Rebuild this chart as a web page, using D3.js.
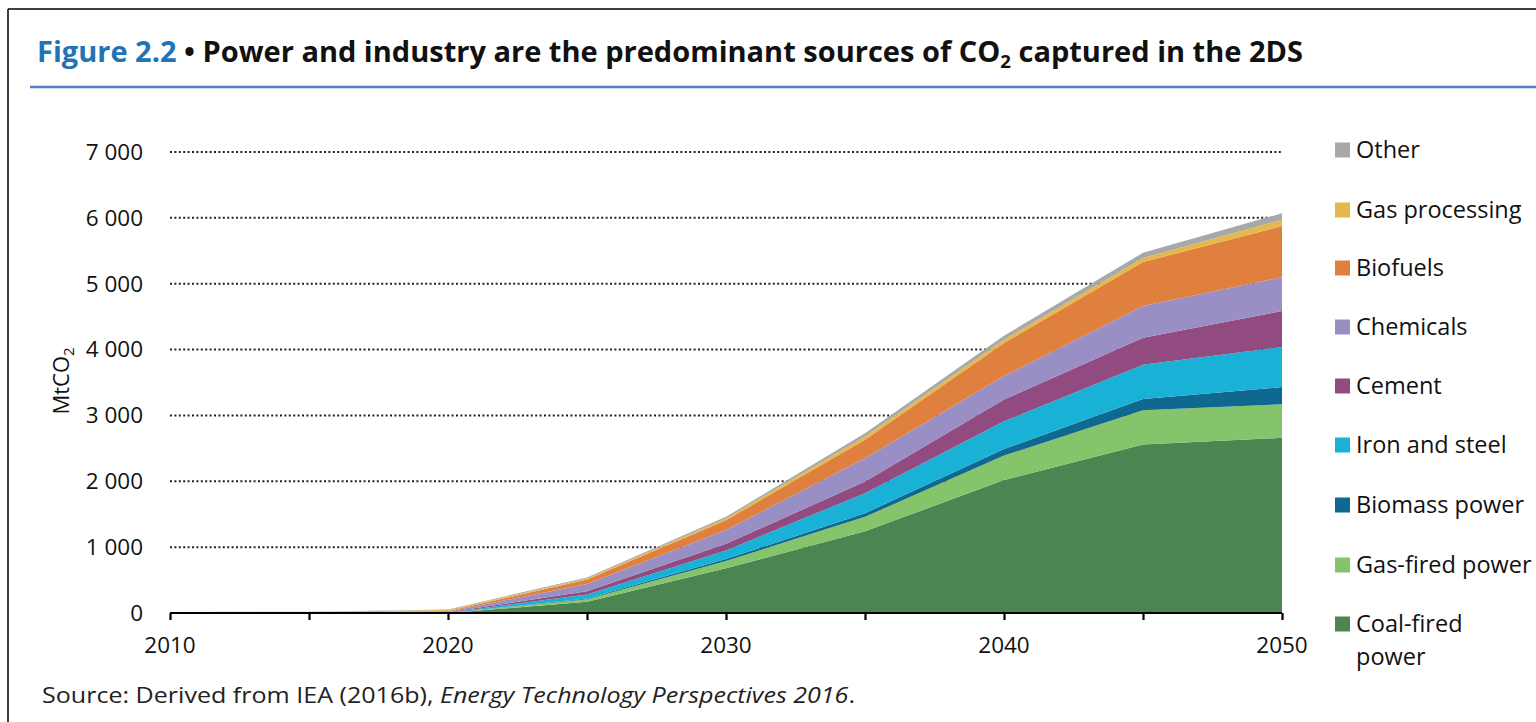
<!DOCTYPE html>
<html><head><meta charset="utf-8">
<script src="https://cdn.jsdelivr.net/npm/d3@7"></script>
<style>
html,body{margin:0;padding:0;background:#fff;}
svg{display:block;}
text{font-family:"Open Sans","Noto Sans",sans-serif;}
</style></head>
<body>
<svg id="c" width="1536" height="722"></svg>
<script>
// ---- data (MtCO2 captured, 2DS) ----
const years = [2010, 2015, 2020, 2025, 2030, 2035, 2040, 2045, 2050];
const seriesNames = ["Coal-fired power", "Gas-fired power", "Biomass power", "Iron and steel", "Cement", "Chemicals", "Biofuels", "Gas processing", "Other"];
const coalFired     = [0, 0, 0, 170, 680, 1240, 2020, 2560, 2660];
const gasFired      = [0, 0, 0, 40, 110, 220, 370, 520, 510];
const biomassPower  = [0, 0, 0, 10, 30, 55, 100, 170, 260];
const ironSteel     = [0, 0, 5, 60, 130, 305, 420, 520, 610];
const cement        = [0, 0, 5, 50, 100, 175, 330, 410, 545];
const chemicals     = [0, 0, 10, 110, 210, 355, 360, 480, 515];
const biofuels      = [0, 0, 10, 70, 150, 280, 500, 670, 775];
const gasProcessing = [10, 15, 15, 15, 25, 50, 50, 60, 95];
const other         = [5, 5, 10, 15, 25, 50, 60, 80, 100];
const yTicks = [0, 1000, 2000, 3000, 4000, 5000, 6000, 7000];
const yTickLabels = ["0", "1 000", "2 000", "3 000", "4 000", "5 000", "6 000", "7 000"];
const xTickLabels = ["2010", "2020", "2030", "2040", "2050"];
const colors = ["#4b8652", "#86c46c", "#0e6890", "#19b2d6", "#924b80", "#9a8fc5", "#e0803f", "#e6b84c", "#a8a8a8"];

const seriesValues = [coalFired, gasFired, biomassPower, ironSteel, cement, chemicals, biofuels, gasProcessing, other];
const table = years.map((y, i) => {
  const row = {year: y};
  seriesNames.forEach((n, k) => row[n] = seriesValues[k][i]);
  return row;
});

const svg = d3.select("#c");

// frame
svg.append("line").attr("x1", 8).attr("x2", 8).attr("y1", 9).attr("y2", 722).attr("stroke", "#000").attr("stroke-width", 1.5);
svg.append("line").attr("x1", 8).attr("x2", 1536).attr("y1", 9).attr("y2", 9).attr("stroke", "#000").attr("stroke-width", 1.5);

// title
const title = svg.append("text").attr("x", 37).attr("y", 62).attr("font-size", 28).attr("font-weight", 700)
  .attr("textLength", 1266).attr("lengthAdjust", "spacingAndGlyphs");
title.append("tspan").attr("fill", "#2272b6").text("Figure 2.2");
title.append("tspan").attr("fill", "#111").text(" \u2022 Power and industry are the predominant sources of CO");
title.append("tspan").attr("fill", "#111").attr("font-size", 18).attr("dy", 6).text("2");
title.append("tspan").attr("fill", "#111").attr("dy", -6).text(" captured in the 2DS");
svg.append("line").attr("x1", 30).attr("x2", 1536).attr("y1", 87).attr("y2", 87).attr("stroke", "#5a7ccc").attr("stroke-width", 2.5);

// scales
const x = d3.scaleLinear().domain([2010, 2050]).range([170, 1282]);
const y = d3.scaleLinear().domain([0, 7000]).range([613, 152]);

// gridlines
svg.append("g").selectAll("line").data(yTicks.filter(d => d > 0)).join("line")
  .attr("x1", x(2010)).attr("x2", x(2050)).attr("y1", d => y(d)).attr("y2", d => y(d))
  .attr("stroke", "#222").attr("stroke-width", 2).attr("stroke-dasharray", "2,2.4");

// stacked areas
const stack = d3.stack().keys(seriesNames);
const layers = stack(table);
const area = d3.area().x(d => x(d.data.year)).y0(d => y(d[0])).y1(d => y(d[1]));
svg.append("g").selectAll("path").data(layers).join("path")
  .attr("d", area).attr("fill", (d, i) => colors[i]);

// y tick labels
svg.append("g").selectAll("text").data(yTicks).join("text")
  .attr("x", 143).attr("y", d => y(d)).attr("dy", "0.35em").attr("text-anchor", "end")
  .attr("font-size", 22.5).attr("fill", "#111").text((d, i) => yTickLabels[i]);

// x axis
const xAxis = d3.axisBottom(x).tickValues(d3.range(2010, 2051, 5)).tickSize(7).tickFormat("");
const gx = svg.append("g").attr("transform", "translate(0,613)").call(xAxis);
gx.select(".domain").attr("stroke", "#000").attr("stroke-width", 2.2).attr("d", `M${x(2010)},0H${x(2050)}`);
gx.selectAll(".tick line").attr("stroke", "#000").attr("stroke-width", 2.2);
svg.append("g").selectAll("text").data(xTickLabels).join("text")
  .attr("x", d => x(+d)).attr("y", 653).attr("text-anchor", "middle")
  .attr("font-size", 22.5).attr("fill", "#111").text(d => d);

// y axis title
const yt = svg.append("text").attr("transform", "translate(69,381) rotate(-90)").attr("text-anchor", "middle")
  .attr("font-size", 22).attr("fill", "#111");
yt.append("tspan").text("MtCO");
yt.append("tspan").attr("font-size", 15).attr("dy", 5).text("2");

// legend
const legendOrder = ["Other", "Gas processing", "Biofuels", "Chemicals", "Cement", "Iron and steel", "Biomass power", "Gas-fired power", "Coal-fired power"];
const legendY = [150, 210, 268, 327, 386, 445, 505, 565, 624];
const lg = svg.append("g").selectAll("g").data(legendOrder).join("g")
  .attr("transform", (d, i) => `translate(1335,${legendY[i]})`);
lg.append("rect").attr("x", 0).attr("y", -7.5).attr("width", 15).attr("height", 15)
  .attr("fill", d => colors[seriesNames.indexOf(d)]);
lg.each(function(d) {
  const t = d3.select(this).append("text").attr("x", 21).attr("dy", "0.35em").attr("font-size", 23.5).attr("fill", "#111");
  if (d === "Coal-fired power") {
    t.append("tspan").attr("x", 21).text("Coal-fired");
    t.append("tspan").attr("x", 21).attr("dy", 33).text("power");
  } else t.text(d);
});

// source
const src = svg.append("text").attr("x", 42).attr("y", 703).attr("font-size", 22).attr("fill", "#222")
  .attr("textLength", 813).attr("lengthAdjust", "spacingAndGlyphs");
src.append("tspan").text("Source: Derived from IEA (2016b), ");
src.append("tspan").attr("font-style", "italic").text("Energy Technology Perspectives 2016");
src.append("tspan").text(".");
</script>
</body></html>
